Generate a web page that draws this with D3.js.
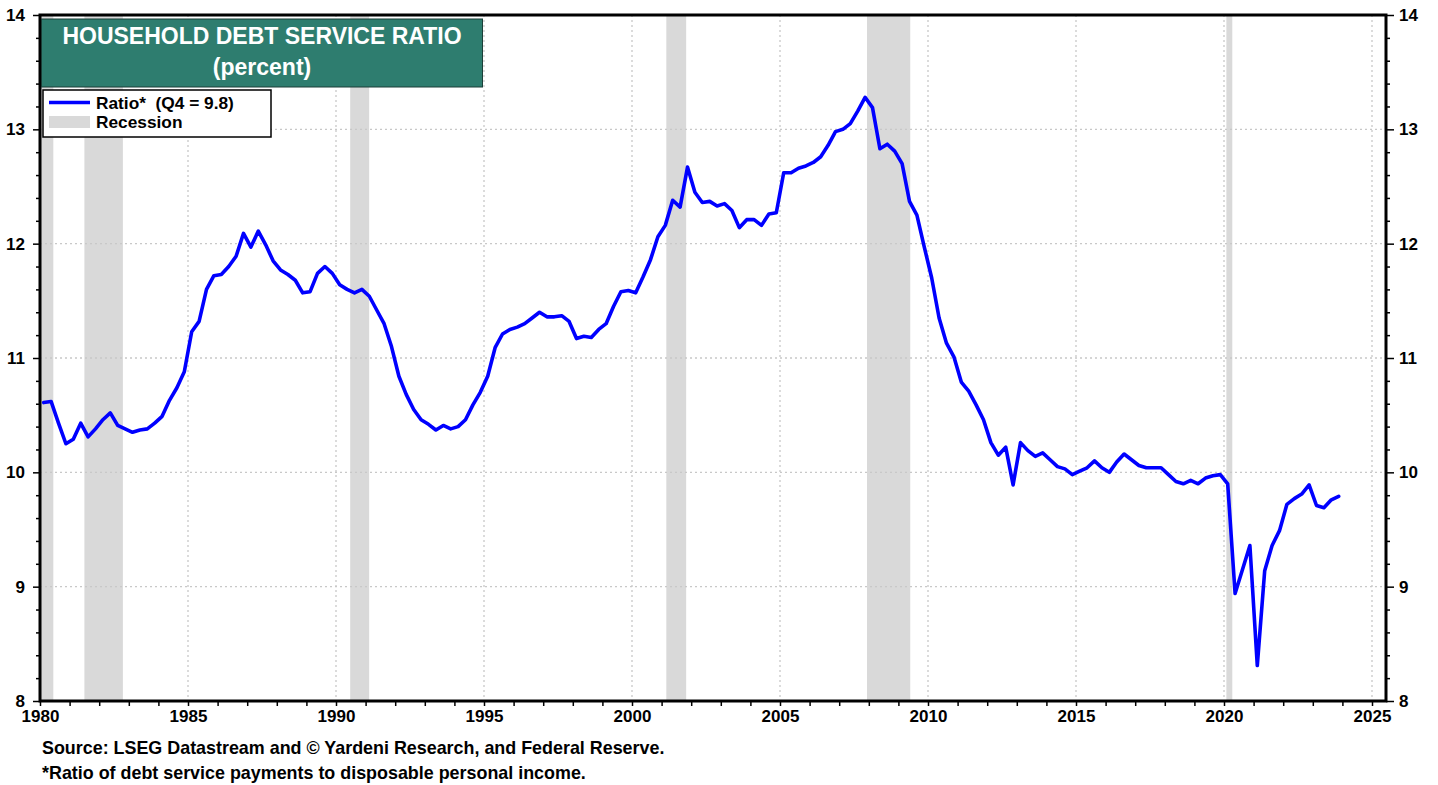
<!DOCTYPE html>
<html><head><meta charset="utf-8">
<script src="https://cdn.jsdelivr.net/npm/d3@7"></script>
<style>
body{margin:0;background:#fff;}
svg{display:block;font-family:"Liberation Sans",Arial,sans-serif;font-weight:bold;}
</style>
</head><body><svg id="c" width="1438" height="785"></svg>
<script>
// ---- data ----
const startYear = 1980; // quarterly, first value = 1980 Q1
const ratio = [
10.61,10.62,10.43,10.25, 10.29,10.43,10.31,10.38, 10.46,10.52,10.41,10.38, 10.35,10.37,10.38,10.43,
10.49,10.63,10.74,10.88, 11.23,11.32,11.60,11.72, 11.73,11.80,11.89,12.09, 11.97,12.11,11.99,11.85,
11.77,11.73,11.68,11.57, 11.58,11.74,11.80,11.74, 11.64,11.60,11.57,11.60, 11.54,11.42,11.30,11.10,
10.84,10.68,10.55,10.46, 10.42,10.37,10.41,10.38, 10.40,10.46,10.59,10.70, 10.84,11.09,11.21,11.25,
11.27,11.30,11.35,11.40, 11.36,11.36,11.37,11.32, 11.17,11.19,11.18,11.25, 11.30,11.45,11.58,11.59,
11.57,11.71,11.86,12.06, 12.16,12.38,12.32,12.67, 12.45,12.36,12.37,12.33, 12.35,12.29,12.14,12.21,
12.21,12.16,12.26,12.27, 12.62,12.62,12.66,12.68, 12.71,12.76,12.86,12.98, 13.00,13.05,13.16,13.28,
13.19,12.83,12.87,12.81, 12.70,12.37,12.25,11.97, 11.70,11.35,11.13,11.01, 10.79,10.71,10.59,10.46,
10.26,10.15,10.22,9.89, 10.26,10.19,10.14,10.17, 10.11,10.05,10.03,9.98, 10.01,10.04,10.10,10.04,
10.00,10.09,10.16,10.11, 10.06,10.04,10.04,10.04, 9.98,9.92,9.90,9.93, 9.90,9.95,9.97,9.98,
9.90,8.94,9.15,9.36, 8.31,9.14,9.36,9.49, 9.72,9.77,9.81,9.89, 9.71,9.69,9.76,9.79
];
const recessions = [[1980.0,1980.45],[1981.5,1982.8],[1990.48,1991.12],[2001.16,2001.83],[2007.94,2009.4],[2020.08,2020.28]];
const yMajor = [8,9,10,11,12,13,14];
const xMajor = [1980,1985,1990,1995,2000,2005,2010,2015,2020,2025];
const titleLines = ["HOUSEHOLD DEBT SERVICE RATIO","(percent)"];
const legendLabels = ["Ratio*  (Q4 = 9.8)","Recession"];
const notes = ["Source: LSEG Datastream and \u00A9 Yardeni Research, and Federal Reserve.","*Ratio of debt service payments to disposable personal income."];

// ---- layout ----
const L=40, R=1386, T=15, B=701;
const svg=d3.select("#c");
const x=d3.scaleLinear().domain([1980,1980+(R-L)/29.6]).range([L,R]);
const y=d3.scaleLinear().domain([8,14]).range([B,T]);
const yMinor=d3.range(8,14.001,0.2).map(v=>+v.toFixed(1)).filter(v=>!yMajor.includes(v));
const xMinor=d3.range(1980,2026).filter(v=>!xMajor.includes(v));

// recessions
svg.append("g").selectAll("rect").data(recessions).join("rect")
  .attr("x",d=>x(d[0])).attr("width",d=>x(d[1])-x(d[0]))
  .attr("y",T).attr("height",B-T).attr("fill","#d9d9d9");

// grid
const grid=svg.append("g").attr("stroke","#c8c8c8").attr("stroke-width",1.3).attr("stroke-dasharray","2,3");
grid.selectAll(".h").data(yMajor.filter(v=>v>8&&v<14)).join("line")
  .attr("x1",L).attr("x2",R).attr("y1",d=>y(d)).attr("y2",d=>y(d));
grid.selectAll(".v").data(xMajor.filter(v=>v>1980)).join("line")
  .attr("y1",T).attr("y2",B).attr("x1",d=>x(d)).attr("x2",d=>x(d));

// line
const pts=ratio.map((v,i)=>({t:startYear+i/4+0.125,v}));
svg.append("path").datum(pts)
  .attr("d",d3.line().x(d=>x(d.t)).y(d=>y(d.v)))
  .attr("fill","none").attr("stroke","#0000ff").attr("stroke-width",3.6)
  .attr("stroke-linejoin","round").attr("stroke-linecap","round");

// axes
function styleAxis(g){
  g.select(".domain").remove();
  g.selectAll("line").attr("stroke","#000").attr("stroke-width",1.5);
  g.selectAll("text").attr("font-size",17).attr("font-weight","bold").attr("fill","#000")
   .attr("font-family",'"Liberation Sans",Arial,sans-serif');
}
svg.append("g").attr("transform",`translate(${L},0)`)
  .call(d3.axisLeft(y).tickValues(yMajor).tickSize(7).tickPadding(8).tickFormat(d3.format("d"))).call(styleAxis);
svg.append("g").attr("transform",`translate(${L},0)`)
  .call(d3.axisLeft(y).tickValues(yMinor).tickSize(4).tickFormat("")).call(styleAxis);
svg.append("g").attr("transform",`translate(${R},0)`)
  .call(d3.axisRight(y).tickValues(yMajor).tickSize(8).tickPadding(5).tickFormat(d3.format("d"))).call(styleAxis);
svg.append("g").attr("transform",`translate(${R},0)`)
  .call(d3.axisRight(y).tickValues(yMinor).tickSize(4).tickFormat("")).call(styleAxis);
svg.append("g").attr("transform",`translate(0,${B})`)
  .call(d3.axisBottom(x).tickValues(xMajor).tickSize(5).tickPadding(4).tickFormat(d3.format("d"))).call(styleAxis);
svg.append("g").attr("transform",`translate(0,${B})`)
  .call(d3.axisBottom(x).tickValues(xMinor).tickSize(5).tickFormat("")).call(styleAxis);

// frame
svg.append("rect").attr("x",L).attr("y",T).attr("width",R-L).attr("height",B-T)
  .attr("fill","none").attr("stroke","#000").attr("stroke-width",3);

// title box
svg.append("rect").attr("x",41.5).attr("y",19).attr("width",441).attr("height",68)
  .attr("fill","#2e7d6f").attr("stroke","#1b3f38").attr("stroke-width",1);
svg.append("g").selectAll("text").data(titleLines).join("text")
  .attr("x",262).attr("y",(d,i)=>44+i*31).attr("text-anchor","middle")
  .attr("fill","#fff").attr("font-size",23).text(d=>d);

// legend
svg.append("rect").attr("x",43).attr("y",90).attr("width",228).attr("height",47)
  .attr("fill","#fff").attr("stroke","#000").attr("stroke-width",1.5);
svg.append("line").attr("x1",49).attr("x2",90).attr("y1",102.5).attr("y2",102.5)
  .attr("stroke","#0000ff").attr("stroke-width",3.5);
svg.append("rect").attr("x",49).attr("y",116).attr("width",41).attr("height",12).attr("fill","#d9d9d9");
svg.append("g").selectAll("text").data(legendLabels).join("text")
  .attr("x",96).attr("y",(d,i)=>108.5+i*19).attr("font-size",17.3).attr("fill","#000")
  .style("white-space","pre").text(d=>d);

// notes
svg.append("g").selectAll("text").data(notes).join("text")
  .attr("x",42).attr("y",(d,i)=>754+i*25).attr("font-size",17.9).attr("fill","#000").text(d=>d);
</script>
</body></html>
